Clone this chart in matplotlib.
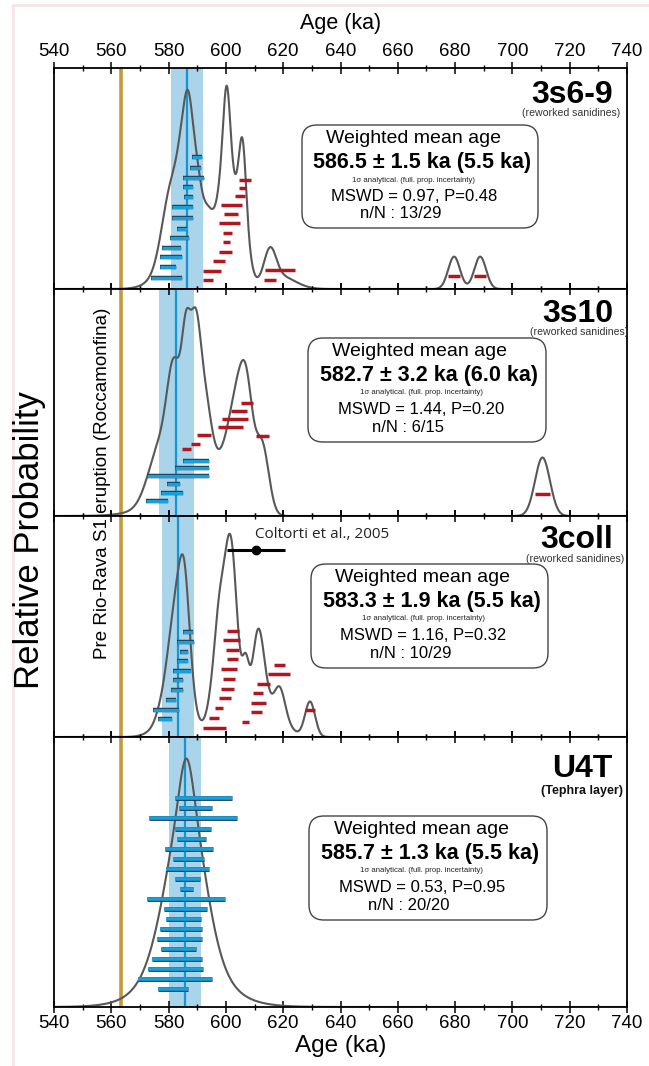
import numpy as np
import matplotlib
matplotlib.use("Agg")
import matplotlib.pyplot as plt
from matplotlib.patches import FancyBboxPatch
import matplotlib.patheffects as pe

plt.rcParams['font.family'] = ['Liberation Sans', 'DejaVu Sans']

# ---------------- data (ages in ka) ----------------
panel_names = ["3s6-9", "3s10", "3coll", "U4T"]
panel_subs = ["(reworked sanidines)", "(reworked sanidines)", "(reworked sanidines)", "(Tephra layer)"]
wm_age = [586.5, 582.7, 583.3, 585.7]
wm_err = [1.5, 3.2, 1.9, 1.3]
wm_full = [5.5, 6.0, 5.5, 5.5]
mswd = [0.97, 1.44, 1.16, 0.53]
p_val = [0.48, 0.20, 0.32, 0.95]
n_used = [13, 6, 10, 20]
n_total = [29, 15, 29, 20]
eruption_age = 563.5  # Pre Rio-Rava S1 eruption

# 3s6-9 : accepted (blue) and rejected (red) crystals, 1 sigma ranges
s69_blue_lo = [588.3, 587.5, 585.1, 585.1, 585.5, 581.1, 581.1, 583.1, 580.5, 577.8, 577.0, 577.0, 573.7]
s69_blue_hi = [591.8, 591.4, 592.5, 588.6, 588.4, 588.6, 588.4, 586.5, 587.0, 584.3, 584.6, 582.6, 584.8]
s69_blue_y = [0.598, 0.548, 0.502, 0.461, 0.417, 0.373, 0.323, 0.273, 0.230, 0.186, 0.147, 0.098, 0.048]
s69_red_lo = [604.7, 604.7, 603.2, 598.3, 599.3, 597.7, 598.9, 599.1, 597.6, 595.6, 591.9, 591.9,
              613.7, 613.3, 677.6, 686.7]
s69_red_hi = [608.6, 607.0, 606.7, 605.7, 604.3, 604.9, 602.3, 601.4, 602.0, 599.8, 598.3, 595.4,
              624.1, 617.5, 681.7, 690.8]
s69_red_y = [0.491, 0.455, 0.420, 0.382, 0.338, 0.297, 0.253, 0.212, 0.168, 0.126, 0.083, 0.039,
             0.086, 0.041, 0.061, 0.061]

# 3s10
s10_blue_lo = [585.1, 582.2, 572.6, 579.6, 577.4, 572.1]
s10_blue_hi = [594.2, 594.0, 594.0, 584.0, 585.1, 579.7]
s10_blue_y = [0.242, 0.211, 0.175, 0.139, 0.101, 0.066]
s10_red_lo = [605.3, 601.8, 598.5, 597.4, 610.4, 590.0, 587.7, 584.6, 707.9]
s10_red_hi = [609.6, 607.3, 607.6, 606.1, 615.0, 594.8, 591.0, 587.7, 713.1]
s10_red_y = [0.499, 0.461, 0.427, 0.394, 0.354, 0.355, 0.319, 0.294, 0.095]

# 3coll
coll_blue_lo = [585.1, 583.1, 584.0, 583.1, 581.7, 581.7, 580.8, 579.1, 574.7, 576.4]
coll_blue_hi = [588.6, 588.9, 586.9, 586.9, 587.7, 584.9, 584.9, 582.6, 583.6, 581.1]
coll_blue_y = [0.473, 0.431, 0.385, 0.343, 0.299, 0.256, 0.212, 0.168, 0.124, 0.080]
coll_red_lo = [600.3, 598.9, 600.0, 600.3, 598.2, 598.9, 598.2, 597.6, 596.2, 594.1, 591.9,
               616.8, 614.8, 610.7, 609.3, 608.7, 608.7, 605.7, 627.6]
coll_red_hi = [604.7, 604.9, 604.5, 604.1, 604.0, 603.2, 602.9, 601.7, 599.1, 597.7, 600.0,
               620.6, 622.4, 615.4, 613.1, 613.9, 612.7, 608.1, 631.1]
coll_red_y = [0.481, 0.437, 0.393, 0.351, 0.308, 0.264, 0.219, 0.175, 0.131, 0.086, 0.042,
              0.328, 0.284, 0.241, 0.197, 0.153, 0.111, 0.067, 0.120]
coltorti_age = 610.4
coltorti_lo = 600.3
coltorti_hi = 620.6

# U4T
u4t_blue_lo = [582.1, 583.8, 573.2, 582.1, 583.1, 578.9, 581.7, 579.0, 582.4, 584.0,
               572.6, 578.4, 579.0, 576.9, 575.8, 577.5, 574.3, 572.7, 569.4, 576.2]
u4t_blue_hi = [602.2, 595.0, 604.0, 594.8, 593.1, 595.6, 592.4, 594.2, 591.0, 588.4,
               599.6, 593.5, 591.2, 591.7, 591.8, 589.5, 591.5, 591.9, 595.0, 586.9]
u4t_blue_y = [0.773, 0.737, 0.699, 0.661, 0.624, 0.587, 0.550, 0.512, 0.475, 0.437,
              0.400, 0.364, 0.326, 0.288, 0.251, 0.214, 0.177, 0.139, 0.102, 0.065]
u4t_red_lo = []
u4t_red_hi = []
u4t_red_y = []

panels = [
    (s69_blue_lo, s69_blue_hi, s69_blue_y, s69_red_lo, s69_red_hi, s69_red_y),
    (s10_blue_lo, s10_blue_hi, s10_blue_y, s10_red_lo, s10_red_hi, s10_red_y),
    (coll_blue_lo, coll_blue_hi, coll_blue_y, coll_red_lo, coll_red_hi, coll_red_y),
    (u4t_blue_lo, u4t_blue_hi, u4t_blue_y, u4t_red_lo, u4t_red_hi, u4t_red_y),
]

# ---------------- layout (pixels of the 649x1066 picture) ----------------
W, H = 649, 1066
ax_left, ax_right = 54, 627
panel_edges = [68, 289, 516, 737, 1007]
box_rect = [(302, 125, 236, 103), (308, 338, 238, 104), (311, 564, 237, 104), (309, 816, 238, 104)]

BLUE = '#1a9fd9'
BLUE_EDGE = '#1f3f5a'
RED = '#b0171f'
BAND = '#a9d4ea'
GOLD = '#c49a36'
CURVE = '#585858'


def inch(x, y):
    return x / 100.0, (H - y) / 100.0


fig = plt.figure(figsize=(W / 100, H / 100), dpi=100)

xs = np.linspace(540, 740, 3000)
axes = []
for i in range(4):
    top, bot = panel_edges[i], panel_edges[i + 1]
    ax = fig.add_axes([ax_left / W, 1 - bot / H, (ax_right - ax_left) / W, (bot - top) / H])
    axes.append(ax)
    blo, bhi, by, rlo, rhi, ry = panels[i]

    ax.axvspan(wm_age[i] - wm_full[i], wm_age[i] + wm_full[i], color=BAND, lw=0, zorder=0)
    ax.axvline(wm_age[i], color='#1596d2', lw=1.6, zorder=1)
    ax.axvline(eruption_age, color=GOLD, lw=2.6, zorder=1)

    # relative probability curve from all crystals
    lo = np.array(blo + rlo)
    hi = np.array(bhi + rhi)
    c = (lo + hi) / 2
    s = (hi - lo) / 2
    pdf = np.zeros_like(xs)
    for cc, ss in zip(c, s):
        pdf += np.exp(-0.5 * ((xs - cc) / ss) ** 2) / ss
    pdf = pdf / pdf.max() * 0.92
    ax.plot(xs, pdf, color=CURVE, lw=1.5, zorder=2)

    bar_lw = 2.6 if i == 3 else 2.3
    ax.hlines(by, blo, bhi, color=BLUE, lw=bar_lw, zorder=4,
              path_effects=[pe.Stroke(linewidth=bar_lw + 0.9, foreground=BLUE_EDGE), pe.Normal()])
    if rlo:
        ax.hlines(ry, rlo, rhi, color=RED, lw=2.5, zorder=4)

    ax.set_xlim(540, 740)
    ax.set_ylim(0, 1)
    ax.set_yticks([])
    ax.set_xticks(np.arange(540, 741, 20))
    ax.set_xticks(np.arange(550, 740, 10), minor=True)
    ax.tick_params(axis='x', which='major', direction='inout', length=8, width=1.1,
                   top=True, bottom=True, labelbottom=(i == 3), labeltop=(i == 0), labelsize=13.5, pad=2)
    ax.tick_params(axis='x', which='minor', direction='inout', length=5, width=1.0, top=True, bottom=True)
    for sp in ax.spines.values():
        sp.set_linewidth(1.3)

    # sample name
    rx = 613
    ty = [103, 322, 548, 777][i]
    fig.text(*inch(rx, ty), panel_names[i], transform=fig.dpi_scale_trans, ha='right', va='baseline',
             fontsize=23, fontweight='bold')
    sub_x = [620, 628, 624, 623][i]
    sub_y = [113, 332, 559, 791][i]
    fig.text(*inch(sub_x, sub_y), panel_subs[i], transform=fig.dpi_scale_trans, ha='right', va='center',
             fontsize=9 if i == 3 else 7.6, fontweight='bold' if i == 3 else 'normal',
             color='#111111' if i == 3 else '#333333')

    # weighted mean box
    bx, byy, bw, bh = box_rect[i]
    x0, y0 = inch(bx, byy + bh)
    patch = FancyBboxPatch((x0, y0), bw / 100, bh / 100, boxstyle='round,pad=0,rounding_size=0.15',
                           transform=fig.dpi_scale_trans, fc='white', ec='#444444', lw=1.0, zorder=5)
    fig.patches.append(patch)
    cx = bx + bw / 2
    fig.text(*inch(cx - 7, byy + 13), "Weighted mean age", transform=fig.dpi_scale_trans,
             ha='center', va='center', fontsize=14, zorder=6)
    fig.text(*inch(cx + 2, byy + 37), f"{wm_age[i]:.1f} \u00b1 {wm_err[i]:.1f} ka ({wm_full[i]:.1f} ka)",
             transform=fig.dpi_scale_trans, ha='center', va='center', fontsize=15.5, fontweight='bold', zorder=6)
    fig.text(*inch(cx - 6, byy + 55), "1\u03c3 analytical. (full. prop. incertainty)",
             transform=fig.dpi_scale_trans, ha='center', va='center', fontsize=5.6, color='#222222', zorder=6)
    fig.text(*inch(cx - 6, byy + 71), f"MSWD = {mswd[i]:.2f}, P={p_val[i]:.2f}",
             transform=fig.dpi_scale_trans, ha='center', va='center', fontsize=12, zorder=6)
    fig.text(*inch(cx - 19, byy + 89), f"n/N : {n_used[i]}/{n_total[i]}",
             transform=fig.dpi_scale_trans, ha='center', va='center', fontsize=12, zorder=6)

# Coltorti et al. reference age
ax3 = axes[2]
ax3.errorbar([coltorti_age], [0.848], xerr=[[coltorti_age - coltorti_lo], [coltorti_hi - coltorti_age]],
             fmt='o', color='black', ms=6, lw=2.2, capsize=0, zorder=6)
fig.text(*inch(255, 535), "Coltorti et al., 2005", transform=fig.dpi_scale_trans, ha='left', va='center',
         fontsize=11, family=['Open Sans', 'DejaVu Sans'], color='#222222')

axes[0].set_xlabel("Age (ka)", fontsize=15.5)
axes[0].xaxis.set_label_position('top')
axes[0].xaxis.labelpad = 10
axes[3].set_xlabel("Age (ka)", fontsize=17.5, labelpad=2)

fig.text(*inch(30, 540), "Relative Probability", transform=fig.dpi_scale_trans, rotation=90,
         ha='center', va='center', fontsize=25)
fig.text(*inch(103, 483), "Pre Rio-Rava S1 eruption (Roccamonfina)", transform=fig.dpi_scale_trans,
         rotation=90, ha='center', va='center', fontsize=13.5)

# faint page frame
fig.add_artist(plt.Line2D([13 / W, 13 / W], [0, 1 - 5 / H], color='#f4e6e6', lw=2, transform=fig.transFigure))
fig.add_artist(plt.Line2D([13 / W, 1], [1 - 5 / H, 1 - 5 / H], color='#f4e6e6', lw=2, transform=fig.transFigure))

fig.savefig("out.png", dpi=100)
